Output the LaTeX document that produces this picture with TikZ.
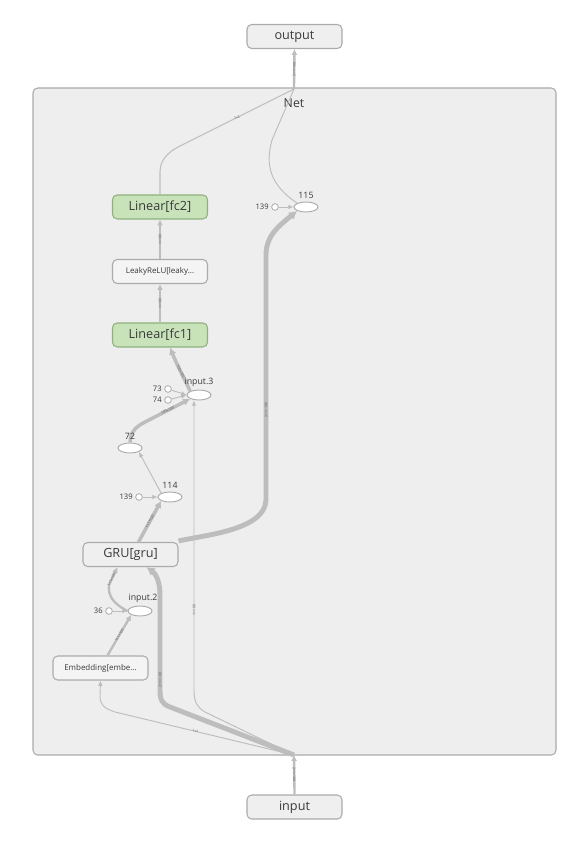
\documentclass[tikz,border=0pt]{standalone}
\usepackage{fontspec}
\setmainfont{Open Sans}
\usetikzlibrary{arrows.meta,shapes.geometric,calc}

\definecolor{edgegray}{HTML}{BDBDBD}
\definecolor{panel}{HTML}{EEEEEE}
\definecolor{framegray}{HTML}{ABABAB}
\definecolor{boxfill}{HTML}{EFEFEF}
\definecolor{lightfill}{HTML}{F4F4F4}
\definecolor{greenfill}{HTML}{C8E2B9}
\definecolor{greenline}{HTML}{8FB27C}
\definecolor{txt}{HTML}{3A3A3A}

\tikzset{
  opbox/.style={draw=framegray, fill=boxfill, rounded corners=4pt, line width=0.9pt,
    minimum width=2.85cm, minimum height=0.72cm, inner sep=0pt, text=txt,
    font=\fontsize{10.8}{12}\selectfont},
  greenbox/.style={opbox, fill=greenfill, draw=greenline},
  smallbox/.style={opbox, fill=lightfill, font=\fontsize{6.8}{8}\selectfont},
  opnode/.style={ellipse, draw=framegray, fill=white, line width=0.8pt,
    minimum width=0.72cm, minimum height=0.3cm, inner sep=0pt},
  constnode/.style={circle, draw=framegray, fill=white, line width=0.7pt,
    minimum size=0.2cm, inner sep=0pt},
  numlabel/.style={font=\fontsize{6.5}{7}\selectfont, text=txt, inner sep=0pt},
  oplabel/.style={font=\fontsize{7.5}{8}\selectfont, text=txt, inner sep=0pt},
  thinedge/.style={draw=edgegray, line width=0.8pt, -{Latex[length=4.5pt,width=4pt]}},
  midedge/.style={draw=edgegray, line width=2pt, -{Latex[length=5pt,width=5pt]}},
  thickedge/.style={draw=edgegray, line width=3pt, -{Latex[length=6pt,width=6.5pt]}},
  heavyedge/.style={draw=edgegray, line width=4.2pt, -{Latex[length=7pt,width=8pt]}},
  elabel/.style={font=\fontsize{3}{3.5}\selectfont, text=black!65, inner sep=0.3pt, sloped},
}

\begin{document}
\begin{tikzpicture}[x=0.03cm, y=-0.03cm]
\useasboundingbox (0,0) rectangle (587,844);
\fill[white] (0,0) rectangle (587,844);

% Net scope
\draw[draw=framegray, fill=panel, rounded corners=4pt, line width=0.9pt] (33,88) rectangle (556,755);
\node[font=\fontsize{10.5}{12}\selectfont, text=txt] (netname) at (294,103) {Net};
\coordinate (nettop) at (294,89);
\coordinate (netbot) at (294,755);

% outer input/output
\node[opbox] (output) at (294.5,36.5) {output};
\node[opbox] (input) at (294.5,807) {input};

% module nodes
\node[greenbox] (fc2) at (160,207) {Linear[fc2]};
\node[smallbox] (leaky) at (160,271.5) {LeakyReLU[leaky...};
\node[greenbox] (fc1) at (160,335) {Linear[fc1]};
\node[opbox] (gru) at (130.5,554.5) {GRU[gru]};
\node[smallbox] (embed) at (100.5,668) {Embedding[embe...};

% operation nodes
\node[opnode] (in3) at (199,395) {};
\node[opnode] (n72) at (130,448) {};
\node[opnode] (n114) at (170,497) {};
\node[opnode] (in2) at (140,611) {};
\node[opnode] (n115) at (306,207) {};

% constants
\node[constnode] (c73) at (168,389) {};
\node[numlabel, left=2pt] (c73lab) at (c73.west) {73};
\node[constnode] (c74) at (168,400) {};
\node[numlabel, left=2pt] (c74lab) at (c74.west) {74};
\node[constnode] (c139a) at (139,497) {};
\node[numlabel, left=2pt] (c139alab) at (c139a.west) {139};
\node[constnode] (c36) at (109,611) {};
\node[numlabel, left=2pt] (c36lab) at (c36.west) {36};
\node[constnode] (c139b) at (275,207) {};
\node[numlabel, left=2pt] (c139blab) at (c139b.west) {139};

% constant inputs
\draw[thinedge] (c73) -- (in3.west);
\draw[thinedge] (c74) -- (in3.west);
\draw[thinedge] (c139a) -- (n114.west);
\draw[thinedge] (c36) -- (in2.west);
\draw[thinedge] (c139b) -- (n115.west);

% input fan-out into the scope
\draw[midedge] (input.north) -- node[elabel, pos=0.5] {2×1×100} (netbot);
\draw[thinedge] (netbot) -- (115,712) .. controls (103,708) and (100,704) .. (100,696) -- (embed.south);
\path (115,712) -- node[elabel, pos=0.45] {1×1} (netbot);
\draw[heavyedge] (netbot) -- (170,707) .. controls (162,704) and (160,700) .. (160,690)
  -- (160,595) .. controls (160,582) and (156,574) .. ($(gru.south)+(16,0)$);
\path (160,690) -- node[elabel, pos=0.2] {2×1×100} (160,640);
\draw[thinedge] (netbot) -- (205,712) .. controls (197,707) and (194,702) .. (194,690) -- (in3.south -| 194,0);
\path (194,630) -- node[elabel] {1×100} (194,590);

% GRU outputs
\draw[heavyedge] (gru.north east) ++(0,-1) .. controls (205,535) and (265,530) .. (266,500)
  -- (266,255) .. controls (266,235) and (280,225) .. (n115.south west);
\path (266,430) -- node[elabel] {2×1×100} (266,390);
\draw[thickedge] ($(gru.north)+(8,0)$) -- node[elabel] {1×1×100} (n114.south west);

% embedding path
\draw[midedge] ($(embed.north)+(7,0)$) -- node[elabel] {1×1×100} (in2.south west);
\draw[midedge] (in2.west) .. controls (112,603) and (108,595) .. (109,585) -- node[elabel, pos=0.3] {1×1×100} ($(gru.south)+(-13,0)$);

% classifier head
\draw[thinedge] (n114.north west) -- (n72.south east);
\draw[thickedge] (n72.north) .. controls (130,435) and (133,428) .. (145,422) -- node[elabel] {100×100} (in3.south west);
\draw[thickedge] (in3.north west) .. controls (185,380) and (177,365) .. node[elabel] {100×100} ($(fc1.south)+(10,0)$);
\draw[midedge] (fc1.north) -- node[elabel] {1×100} (leaky.south);
\draw[midedge] (leaky.north) -- node[elabel] {1×100} (fc2.south);

% outputs of the scope
\draw[draw=edgegray, line width=0.9pt] (fc2.north) -- (160,172) .. controls (160,160) and (168,152) .. (180,146) -- node[elabel] {1×2} (nettop);
\draw[draw=edgegray, line width=0.8pt] (n115.north west) .. controls (270,185) and (265,165) .. (272,140) -- (nettop);
\draw[midedge] (nettop) -- node[elabel] {2×1×100} (output.south);

% operation names, set over the edges
\node[oplabel, above=2.5pt] (in3lab) at (in3.north) {input.3};
\node[oplabel, above=2.5pt] (n72lab) at (n72.north) {72};
\node[oplabel, above=2.5pt] (n114lab) at (n114.north) {114};
\node[oplabel, above=2.5pt] (in2lab) at ($(in2.north)+(3,0)$) {input.2};
\node[oplabel, above=2.5pt] (n115lab) at (n115.north) {115};

\end{tikzpicture}
\end{document}
